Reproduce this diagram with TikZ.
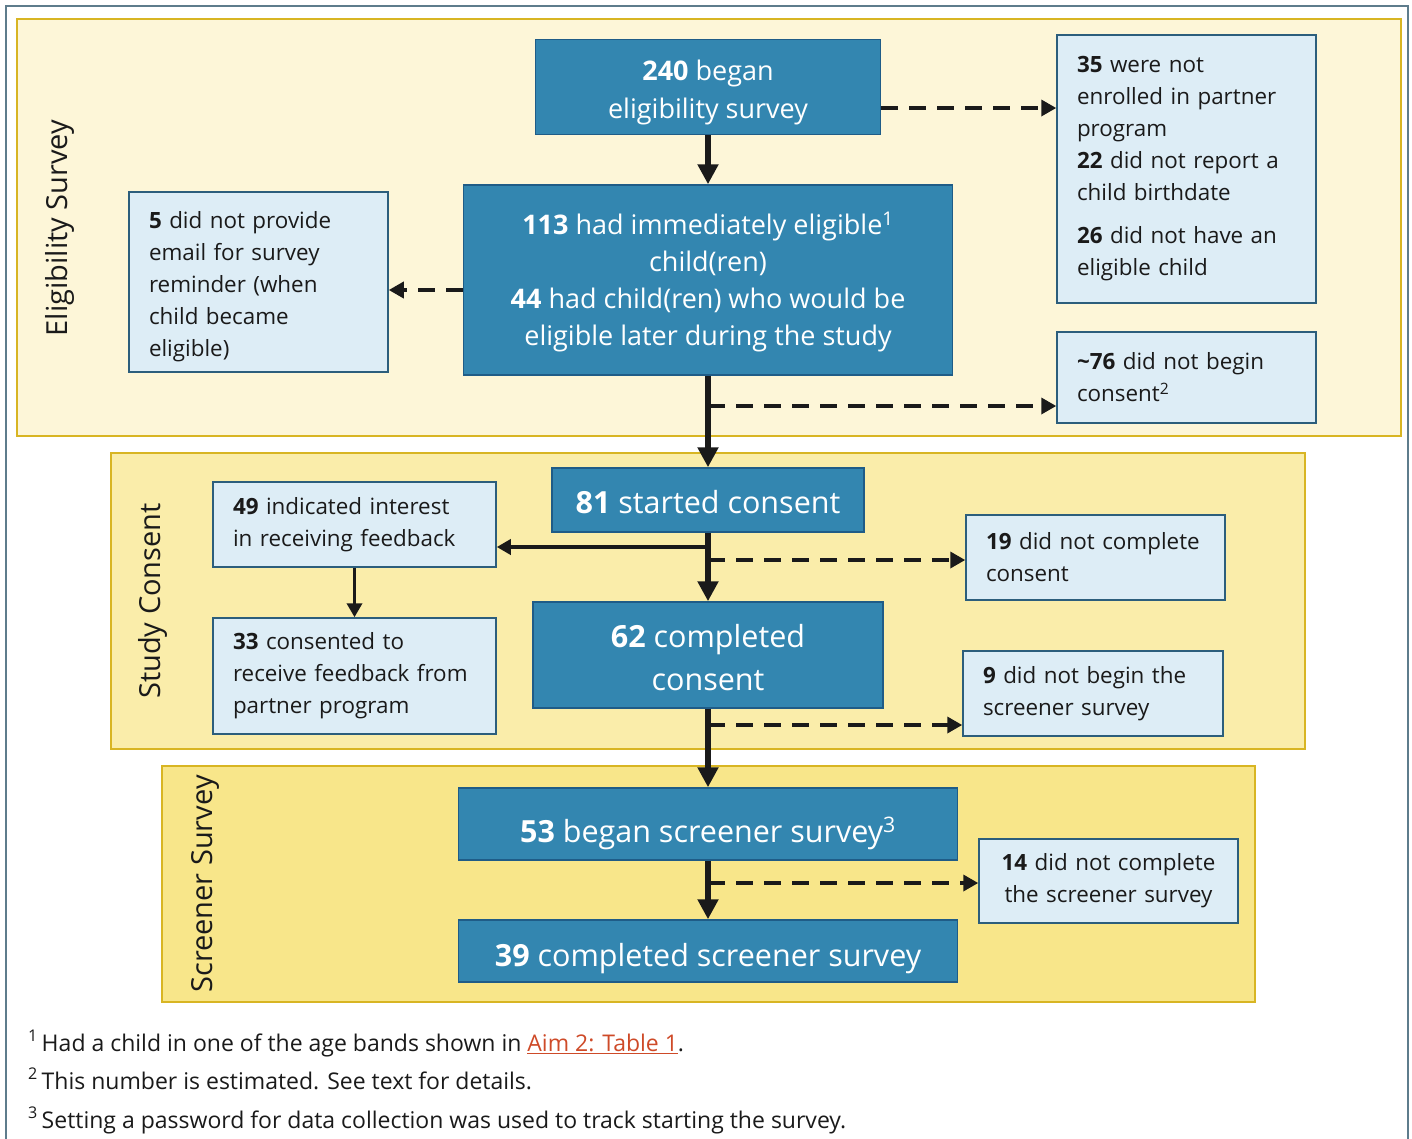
\documentclass[tikz,border=0pt]{standalone}
\usepackage{fontspec}
\setmainfont{Open Sans}
\usepackage{xcolor}
\definecolor{framegray}{RGB}{94,124,140}
\definecolor{bandline}{RGB}{216,181,35}
\definecolor{bandA}{RGB}{253,246,216}
\definecolor{bandB}{RGB}{250,237,170}
\definecolor{bandC}{RGB}{248,230,138}
\definecolor{darkfill}{RGB}{51,134,176}
\definecolor{darkline}{RGB}{31,92,135}
\definecolor{lightfill}{RGB}{221,237,246}
\definecolor{lightline}{RGB}{44,94,124}
\definecolor{inkdark}{RGB}{26,26,26}
\definecolor{linkred}{RGB}{206,74,40}
\usetikzlibrary{arrows.meta,positioning,calc}

\begin{document}
\begin{tikzpicture}[
  x=1pt, y=-1pt,
  band/.style={draw=bandline, line width=2pt},
  darkbox/.style={draw=darkline, line width=1.5pt, fill=darkfill, text=white, align=center, inner sep=0pt},
  lightbox/.style={draw=lightline, line width=1.5pt, fill=lightfill, text=inkdark, align=left, inner xsep=20pt, inner ysep=0pt, font=\fontsize{22.4}{32}\selectfont},
  phase/.style={rotate=90, text=inkdark, font=\fontsize{29}{32}\selectfont},
  mainarr/.style={-{Triangle[length=20pt,width=20pt]}, line width=6pt, inkdark},
  sidearr/.style={-{Triangle[length=14pt,width=15pt]}, line width=3.5pt, inkdark},
  dasharr/.style={-{Triangle[length=15pt,width=16pt]}, line width=3.5pt, inkdark, dash pattern=on 17pt off 11pt}
]
\useasboundingbox (0,0) rectangle (1412,1138);

% phases
\draw[framegray, line width=2pt] (6,1145) -- (6,6) -- (1408,6) -- (1408,1145);
\draw[band, fill=bandA] (17,19) rectangle (1401,436);
\draw[band, fill=bandB] (111,453) rectangle (1305,749);
\draw[band, fill=bandC] (162,766) rectangle (1255,1002);

\node[phase] (elig) at (60,228) {Eligibility Survey};
\node[phase] (cons) at (153,601) {Study Consent};
\node[phase] (scrn) at (205,884) {Screener Survey};

% main flow
\node[darkbox, minimum width=345pt, minimum height=95pt, font=\fontsize{27}{38}\selectfont] (began) at (708,87) {\rule{0pt}{32pt}\textbf{240} began\\eligibility survey};
\node[darkbox, minimum width=489pt, minimum height=190pt, font=\fontsize{27}{37}\selectfont] (eligible) at (708,280) {\rule{0pt}{26pt}\textbf{113} had immediately eligible\textsuperscript{1}\\child(ren)\\\textbf{44} had child(ren) who would be\\eligible later during the study};
\node[darkbox, minimum width=312pt, minimum height=64pt, text height=26pt, text depth=0pt, font=\fontsize{30.5}{36}\selectfont] (started) at (708,500) {\textbf{81} started consent};
\node[darkbox, minimum width=350pt, minimum height=106pt, font=\fontsize{30.5}{43}\selectfont] (completed) at (708,655) {\rule{0pt}{29pt}\textbf{62} completed\\consent};
\node[darkbox, minimum width=499pt, minimum height=72pt, text height=36pt, text depth=0pt, font=\fontsize{30.5}{36}\selectfont] (screener) at (708,824) {\textbf{53} began screener survey\textsuperscript{3}};
\node[darkbox, minimum width=499pt, minimum height=62pt, text height=30pt, text depth=0pt, font=\fontsize{30.5}{36}\selectfont] (done) at (708,951) {\textbf{39} completed screener survey};

% side boxes
\node[lightbox, text width=219pt, minimum height=268pt] (notenrolled) at (1186.5,169) {\textbf{35} were not\\enrolled in partner\\program\\\textbf{22} did not report a\\child birthdate\\[11pt]\textbf{26} did not have an\\eligible child};
\node[lightbox, text width=219pt, minimum height=180pt] (noemail) at (258.5,282) {\rule{0pt}{27pt}\textbf{5} did not provide\\email for survey\\reminder (when\\child became\\eligible)};
\node[lightbox, text width=219pt, minimum height=91pt] (noconsent) at (1186.5,377.5) {\textbf{\textasciitilde76} did not begin\\consent\textsuperscript{2}};
\node[lightbox, text width=243pt, minimum height=85pt] (interest) at (354.5,524.5) {\textbf{49} indicated interest\\in receiving feedback};
\node[lightbox, text width=243pt, minimum height=116pt] (feedback) at (354.5,676) {\textbf{33} consented to\\receive feedback from\\partner program};
\node[lightbox, text width=219pt, minimum height=85pt] (nocomplete) at (1095.5,557.5) {\textbf{19} did not complete\\consent};
\node[lightbox, text width=220pt, minimum height=85pt] (nobegin) at (1093,693.5) {\textbf{9} did not begin the\\screener survey};
\node[lightbox, text width=219pt, minimum height=84pt, align=center] (noscreen) at (1108.5,881) {\textbf{14} did not complete\\the screener survey};

% branch points
\coordinate (brA) at (708,406);
\coordinate (brB) at (708,547);
\coordinate (brC) at (708,560);
\coordinate (brD) at (708,725);
\coordinate (brE) at (708,883);

\draw[mainarr] (began) -- (eligible);
\draw[mainarr] (eligible) -- (started);
\draw[mainarr] (started) -- (completed);
\draw[mainarr] (completed) -- (screener);
\draw[mainarr] (screener) -- (done);
\draw[sidearr] (interest) -- (feedback);
\draw[sidearr] (brB) -- (brB -| interest.east);
\draw[dasharr] ([yshift=-21pt]began.east) -- ([yshift=-21pt]began.east -| notenrolled.west);
\draw[dasharr] ([yshift=-10pt]eligible.west) -- ([yshift=-10pt]eligible.west -| noemail.east);
\draw[dasharr] (brA) -- (brA -| noconsent.west);
\draw[dasharr] (brC) -- (brC -| nocomplete.west);
\draw[dasharr] (brD) -- (brD -| nobegin.west);
\draw[dasharr] (brE) -- (brE -| noscreen.west);

% footnotes
\begin{scope}[every node/.style={anchor=base west, inner sep=0pt, text=inkdark, font=\fontsize{23}{26}\selectfont}]
\node (noteA) at (28,1051) {\textsuperscript{1}\,Had a child in one of the age bands shown in \textcolor{linkred}{\underline{Aim 2: Table 1}}.};
\node (noteB) at (28,1089) {\textsuperscript{2}\,This number is estimated. See text for details.};
\node (noteC) at (28,1128) {\textsuperscript{3}\,Setting a password for data collection was used to track starting the survey.};
\end{scope}
\end{tikzpicture}
\end{document}
